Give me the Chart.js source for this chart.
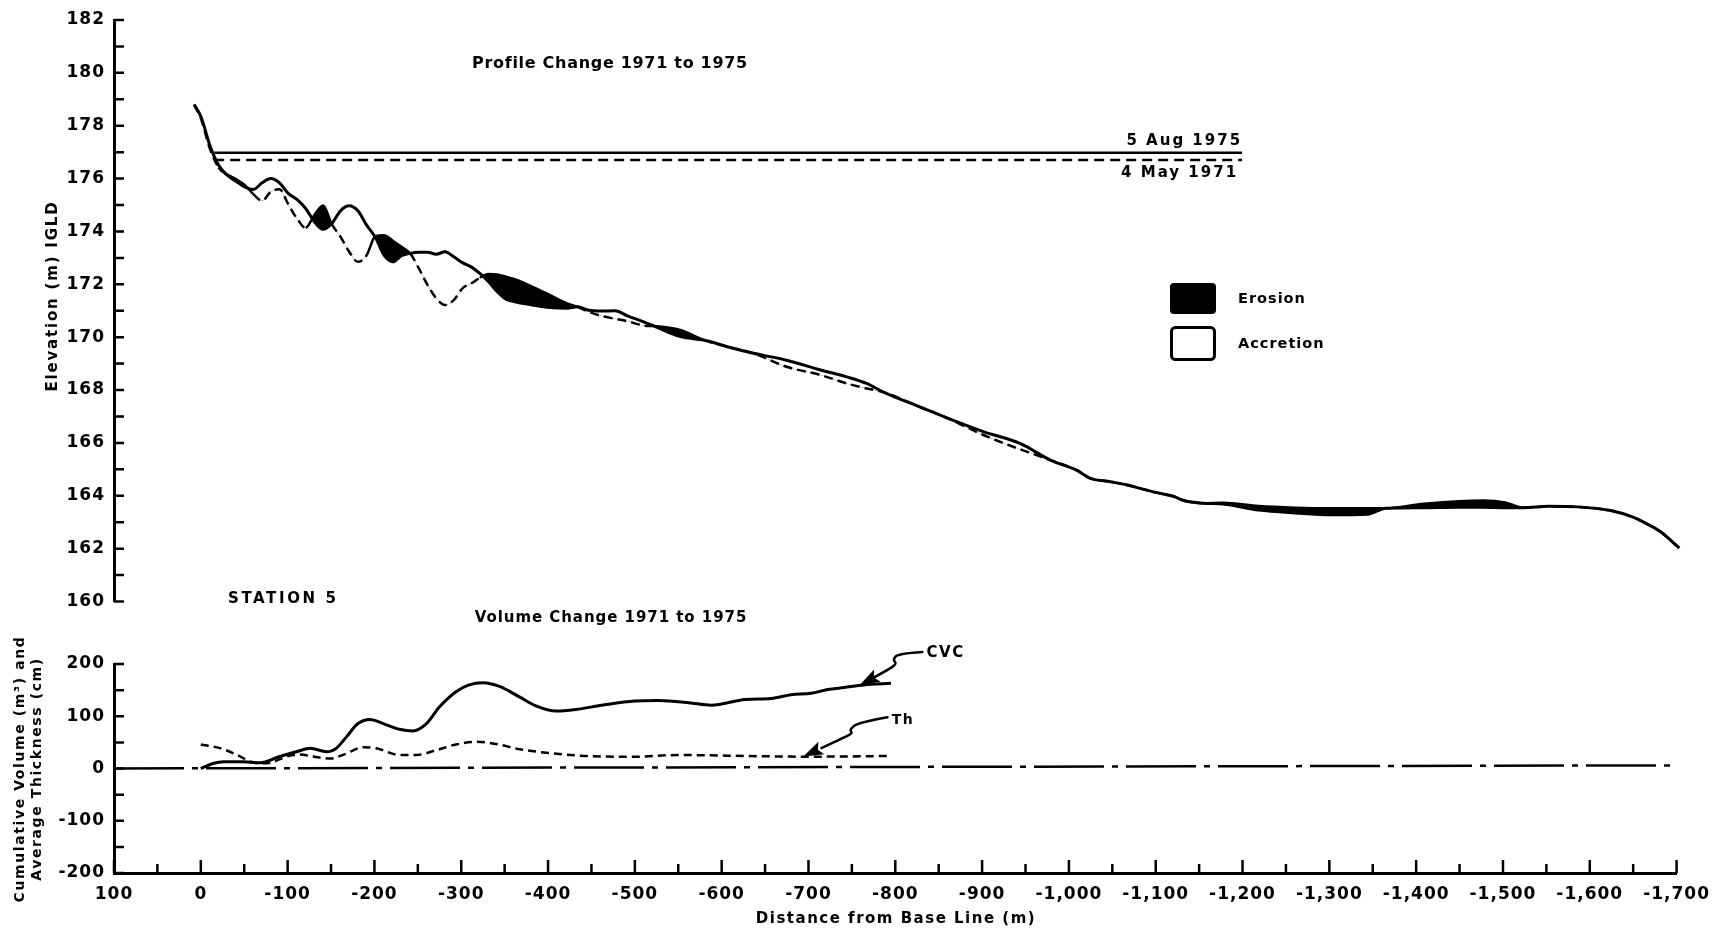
<!DOCTYPE html>
<html lang="en">
<head>
  <meta charset="UTF-8">
  <title>Station 5 - Profile and Volume Change 1971 to 1975</title>
  <style>
    body {
      margin: 0;
      background-color: #fff;
    }
    .wrap {
      position: relative;
      width: 1718px;
      height: 928px;
    }
    canvas {
      position: absolute;
      left: 0;
    }
    #profileChart { top: 0; }
    #volumeChart { top: 630px; }
  </style>
</head>
<body>
  <div class="wrap">
    <canvas id="profileChart" width="1718" height="630"></canvas>
    <canvas id="volumeChart" width="1718" height="298"></canvas>
  </div>
  <script src="https://cdn.jsdelivr.net/npm/chart.js"></script>
  <script>
    // ---- profile (distance from base line in m, elevation in m IGLD) ----
    var distance = [8, 0, -10, -20, -30, -40, -50, -60, -70, -80, -90, -100, -110, -120, -130, -140, -150,
      -160, -170, -180, -190, -200, -210, -220, -230, -240, -250, -260, -270, -280, -290, -300, -310,
      -320, -330, -340, -350, -360, -380, -400, -420, -432, -445, -460, -475, -490, -508, -520, -550,
      -577, -604, -634, -672, -711, -741, -764, -784, -829, -856, -898, -940, -975, -1005, -1021, -1044,
      -1063, -1078, -1097, -1116, -1130, -1150, -1173, -1214, -1256, -1297, -1339, -1360, -1401, -1443,
      -1472, -1497, -1518, -1547, -1580, -1618, -1643, -1656, -1675, -1697];

    var elev1975 = [178.80, 178.33, 177.26, 176.51, 176.13, 175.90, 175.69, 175.59, 175.84, 176.00, 175.84,
      175.44, 175.21, 174.87, 174.37, 174.08, 174.30, 174.78, 174.97, 174.78, 174.24, 173.78, 173.10,
      172.85, 173.08, 173.17, 173.21, 173.21, 173.14, 173.23, 173.04, 172.82, 172.66, 172.41, 172.10,
      171.72, 171.44, 171.34, 171.22, 171.12, 171.09, 171.15, 171.02, 170.99, 171.00, 170.80, 170.58,
      170.42, 170.02, 169.89, 169.64, 169.39, 169.13, 168.76, 168.50, 168.25, 167.91, 167.31, 166.95,
      166.43, 165.98, 165.35, 164.97, 164.66, 164.53, 164.41, 164.28, 164.12, 163.98, 163.80, 163.72,
      163.69, 163.46, 163.35, 163.28, 163.30, 163.53, 163.55, 163.57, 163.57, 163.55, 163.55, 163.60,
      163.58, 163.44, 163.20, 163.00, 162.65, 162.02];

    var elev1971 = [178.80, 178.25, 177.14, 176.42, 176.15, 175.98, 175.76, 175.41, 175.16, 175.50, 175.60,
      175.03, 174.49, 174.14, 174.62, 174.98, 174.28, 173.80, 173.23, 172.85, 173.10, 173.82, 173.86,
      173.65, 173.42, 173.17, 172.60, 171.97, 171.47, 171.22, 171.40, 171.85, 172.03, 172.25, 172.39,
      172.37, 172.29, 172.19, 171.91, 171.60, 171.28, 171.15, 170.96, 170.80, 170.70, 170.60, 170.44,
      170.42, 170.27, 169.89, 169.64, 169.39, 168.88, 168.57, 168.25, 168.06, 167.91, 167.31, 166.95,
      166.30, 165.76, 165.35, 164.97, 164.66, 164.53, 164.41, 164.28, 164.12, 163.98, 163.80, 163.72,
      163.74, 163.61, 163.55, 163.53, 163.53, 163.53, 163.69, 163.79, 163.82, 163.75, 163.55, 163.60,
      163.58, 163.44, 163.20, 163.00, 162.65, 162.02];

    // lake levels
    var waterX = [-15, -1195];
    var water1975 = [176.98, 176.98];
    var water1971 = [176.70, 176.70];

    // ---- volume change (m3 and cm) ----
    var cvcX = [0, -15, -26, -49, -68, -91, -110, -126, -145, -156, -168, -181, -195, -210, -229, -244, -260,
      -275, -294, -309, -325, -344, -367, -386, -409, -432, -462, -500, -527, -562, -588, -627, -657,
      -680, -703, -722, -741, -764, -795];
    var cvcVal = [0, 10, 13, 13, 11, 23, 32, 38.6, 32, 38.6, 61, 86, 94, 86, 75, 72, 86, 118, 147, 160, 164,
      157, 137, 120, 110, 113, 121, 129, 130, 126, 121, 132, 134, 141, 144, 151, 155, 160, 163];

    var thX = [0, -22, -42, -61, -76, -99, -114, -129, -149, -164, -187, -202, -229, -248, -271, -294, -317,
      -340, -367, -405, -443, -500, -550, -627, -696, -795];
    var thVal = [46, 39, 26, 11, 10, 23, 27, 23, 19, 26, 40.5, 38.6, 26, 26, 35, 46, 51, 47, 37, 29, 24,
      22.6, 25.8, 23.9, 22.6, 23.9];

    var zeroX = [100, -1700];
    var zeroVal = [0, 6];

    // label arrows (distance, value)
    var cvcArrow = [[-831, 223], [-803, 220], [-797, 208], [-802, 201], [-791, 188], [-759, 160]];
    var thArrow = [[-791, 98], [-757, 88], [-747, 74], [-751, 68], [-743, 61], [-694, 23]];

    function pts(xs, ys) {
      return xs.map(function(x, i) { return { x: x, y: ys[i] }; });
    }

    // where the 1971 surface lies above 1975 the line is the edge of the black fill
    function eroded(i) {
      return elev1971[i] > elev1975[i] + 0.005;
    }

    Chart.defaults.font.family = '"DejaVu Sans", sans-serif';
    Chart.defaults.font.weight = 'bold';
    Chart.defaults.font.size = 17;
    Chart.defaults.color = '#000';

    // inward tick marks on the axes
    var axisTicks = {
      id: 'axisTicks',
      beforeDraw: function(chart) {
        chart.ctx.letterSpacing = '1px';
      },
      afterDraw: function(chart, args, opts) {
        var ctx = chart.ctx;
        var xs = chart.scales.x;
        var ys = chart.scales.y;
        ctx.save();
        ctx.strokeStyle = '#000';
        ctx.lineWidth = 2.5;
        ctx.beginPath();
        for (var v = ys.min; v <= ys.max; v += opts.yStep) {
          var py = ys.getPixelForValue(v);
          ctx.moveTo(ys.right, py);
          ctx.lineTo(ys.right + 10, py);
        }
        if (opts.xStep) {
          for (var d = xs.min; d <= xs.max; d += opts.xStep) {
            var px = xs.getPixelForValue(d);
            var len = d % 100 === 0 ? 13 : 9;
            ctx.moveTo(px, xs.top);
            ctx.lineTo(px, xs.top - len);
          }
        }
        ctx.stroke();
        ctx.restore();
      }
    };

    function text(ctx, str, x, y, size, align, spacing) {
      ctx.font = 'bold ' + size + 'px "DejaVu Sans", sans-serif';
      ctx.letterSpacing = (spacing || 1) + 'px';
      ctx.textAlign = align || 'left';
      ctx.textBaseline = 'middle';
      ctx.fillText(str, x, y);
    }

    function vText(ctx, str, x, y, size, spacing) {
      ctx.save();
      ctx.translate(x, y);
      ctx.rotate(-Math.PI / 2);
      text(ctx, str, 0, 0, size, 'center', spacing);
      ctx.restore();
    }

    var profileNotes = {
      id: 'profileNotes',
      afterDraw: function(chart) {
        var ctx = chart.ctx;
        var xs = chart.scales.x;
        var ys = chart.scales.y;
        ctx.save();
        ctx.fillStyle = '#000';
        ctx.strokeStyle = '#000';

        text(ctx, 'Profile Change 1971 to 1975', 610, 64, 16, 'center', 0.7);

        var endX = xs.getPixelForValue(waterX[1]);
        text(ctx, '5 Aug 1975', endX, ys.getPixelForValue(water1975[0]) - 12, 15, 'right', 2);
        text(ctx, '4 May 1971', endX - 4, ys.getPixelForValue(water1971[0]) + 13, 15, 'right', 2);

        // legend
        ctx.beginPath();
        ctx.roundRect(1170, 283, 46, 31, 4);
        ctx.fill();
        ctx.lineWidth = 3;
        ctx.beginPath();
        ctx.roundRect(1171.5, 327.5, 43, 32, 4);
        ctx.stroke();
        text(ctx, 'Erosion', 1238, 299, 14.5, 'left', 1);
        text(ctx, 'Accretion', 1238, 344, 14.5, 'left', 1);

        vText(ctx, 'Elevation (m) IGLD', 53, 296, 15, 1.8);

        text(ctx, 'STATION 5', 228, 599, 15, 'left', 2.6);
        text(ctx, 'Volume Change 1971 to 1975', 611, 618, 15, 'center', 0.95);
        ctx.restore();
      }
    };

    function drawArrow(ctx, chart, path) {
      var xs = chart.scales.x;
      var ys = chart.scales.y;
      var p = path.map(function(q) {
        return [xs.getPixelForValue(q[0]), ys.getPixelForValue(q[1])];
      });
      var tip = p[p.length - 1];
      var prev = p[p.length - 2];
      var ang = Math.atan2(tip[1] - prev[1], tip[0] - prev[0]);
      var headLen = 20;
      var headW = 7;
      var bx = tip[0] - headLen * Math.cos(ang);
      var by = tip[1] - headLen * Math.sin(ang);

      ctx.beginPath();
      ctx.moveTo(p[0][0], p[0][1]);
      for (var i = 1; i < p.length - 1; i++) {
        var mx = (p[i][0] + p[i + 1][0]) / 2;
        var my = (p[i][1] + p[i + 1][1]) / 2;
        ctx.quadraticCurveTo(p[i][0], p[i][1], mx, my);
      }
      ctx.lineTo(bx, by);
      ctx.stroke();

      ctx.beginPath();
      ctx.moveTo(tip[0], tip[1]);
      ctx.lineTo(bx - headW * Math.sin(ang), by + headW * Math.cos(ang));
      ctx.lineTo(bx + 4 * Math.cos(ang), by + 4 * Math.sin(ang));
      ctx.lineTo(bx + headW * Math.sin(ang), by - headW * Math.cos(ang));
      ctx.closePath();
      ctx.fill();
    }

    var volumeNotes = {
      id: 'volumeNotes',
      afterDraw: function(chart) {
        var ctx = chart.ctx;
        var xs = chart.scales.x;
        var ys = chart.scales.y;
        ctx.save();
        ctx.fillStyle = '#000';
        ctx.strokeStyle = '#000';
        ctx.lineWidth = 2.5;
        ctx.lineCap = 'round';
        ctx.lineJoin = 'round';

        drawArrow(ctx, chart, cvcArrow);
        drawArrow(ctx, chart, thArrow);
        text(ctx, 'CVC', xs.getPixelForValue(-836), ys.getPixelForValue(221), 15, 'left', 1.5);
        text(ctx, 'Th', xs.getPixelForValue(-796), ys.getPixelForValue(93), 14, 'left', 1.5);

        vText(ctx, 'Cumulative Volume (m\u00b3) and', 20, 139, 14, 1.6);
        vText(ctx, 'Average Thickness (cm)', 37, 139, 14, 1.6);

        text(ctx, 'Distance from Base Line (m)', 896, 289, 15, 'center', 1.5);
        ctx.restore();
      }
    };

    var yAxisBase = {
      type: 'linear',
      grid: { drawOnChartArea: false, drawTicks: false },
      border: { display: true, color: '#000', width: 3 },
      afterFit: function(scale) { scale.width = 114; }
    };

    var profileChart = new Chart(document.getElementById('profileChart'), {
      type: 'line',
      data: {
        datasets: [{
          label: '5 Aug 1975',
          data: pts(distance, elev1975),
          borderColor: '#000',
          borderWidth: 3,
          pointRadius: 0,
          cubicInterpolationMode: 'monotone',
          fill: { target: 1, above: 'rgba(0,0,0,0)', below: '#000' }
        }, {
          label: '4 May 1971',
          data: pts(distance, elev1971),
          borderColor: '#000',
          borderWidth: 2.5,
          borderDash: [9, 5],
          pointRadius: 0,
          cubicInterpolationMode: 'monotone',
          segment: {
            borderDash: function(c) {
              return (eroded(c.p0DataIndex) || eroded(c.p1DataIndex)) ? [] : undefined;
            }
          },
          fill: false
        }, {
          label: 'Lake level 1975',
          data: pts(waterX, water1975),
          borderColor: '#000',
          borderWidth: 2.5,
          pointRadius: 0,
          fill: false
        }, {
          label: 'Lake level 1971',
          data: pts(waterX, water1971),
          borderColor: '#000',
          borderWidth: 2.5,
          borderDash: [10, 6],
          pointRadius: 0,
          fill: false
        }]
      },
      options: {
        responsive: false,
        animation: false,
        devicePixelRatio: 1,
        locale: 'en-US',
        layout: { padding: { top: 20, right: 36, bottom: 28.5, left: 0 } },
        plugins: {
          legend: { display: false },
          tooltip: { enabled: false },
          axisTicks: { yStep: 1 }
        },
        scales: {
          x: { type: 'linear', min: -1700, max: 100, reverse: true, display: false },
          y: Object.assign({}, yAxisBase, {
            min: 160,
            max: 182,
            ticks: { stepSize: 2, padding: 9, color: '#000' }
          })
        }
      },
      plugins: [axisTicks, profileNotes]
    });

    var volumeChart = new Chart(document.getElementById('volumeChart'), {
      type: 'line',
      data: {
        datasets: [{
          label: 'CVC',
          data: pts(cvcX, cvcVal),
          borderColor: '#000',
          borderWidth: 3,
          pointRadius: 0,
          cubicInterpolationMode: 'monotone'
        }, {
          label: 'Th',
          data: pts(thX, thVal),
          borderColor: '#000',
          borderWidth: 2.5,
          borderDash: [8, 5],
          pointRadius: 0,
          cubicInterpolationMode: 'monotone'
        }, {
          label: 'Zero',
          data: pts(zeroX, zeroVal),
          borderColor: '#000',
          borderWidth: 2.5,
          borderDash: [70, 8, 6, 8],
          pointRadius: 0
        }]
      },
      options: {
        responsive: false,
        animation: false,
        devicePixelRatio: 1,
        locale: 'en-US',
        layout: { padding: { top: 34, right: 36, bottom: 0, left: 0 } },
        plugins: {
          legend: { display: false },
          tooltip: { enabled: false },
          axisTicks: { yStep: 50, xStep: 50 }
        },
        scales: {
          x: {
            type: 'linear',
            min: -1700,
            max: 100,
            reverse: true,
            position: 'bottom',
            ticks: { stepSize: 100, autoSkip: false, maxRotation: 0, padding: 11, maxTicksLimit: 100, color: '#000' },
            grid: { drawOnChartArea: false, drawTicks: false },
            border: { display: true, color: '#000', width: 3 },
            afterFit: function(scale) { scale.height = 55; }
          },
          y: Object.assign({}, yAxisBase, {
            min: -200,
            max: 200,
            ticks: { stepSize: 100, padding: 9, color: '#000' }
          })
        }
      },
      plugins: [axisTicks, volumeNotes]
    });
  </script>
</body>
</html>
